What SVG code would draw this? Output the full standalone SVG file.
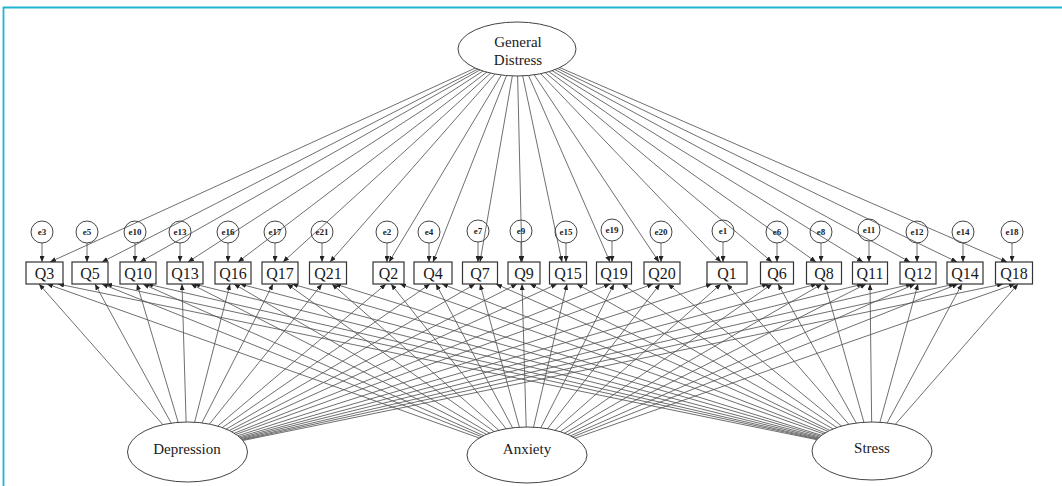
<svg xmlns="http://www.w3.org/2000/svg" width="1062" height="486" viewBox="0 0 1062 486">
<defs>
<style>
.c line{stroke:#555;stroke-width:0.85;marker-end:url(#a)}
.bx{fill:#fff;stroke:#333;stroke-width:1.2}
.qt{font-family:"Liberation Serif",serif;font-size:16px;text-anchor:middle;fill:#1a1a1a}
.ec{fill:none;stroke:#444;stroke-width:1}
.et{font-family:"Liberation Serif",serif;font-size:9px;font-weight:bold;text-anchor:middle;fill:#222}
.lv{fill:#fff;stroke:#444;stroke-width:1}
.lt{font-family:"Liberation Serif",serif;font-size:15px;text-anchor:middle;fill:#1a1a1a}
.bd{stroke:#1fb6d2;stroke-width:1.8;fill:none}
</style>
<marker id="a" markerWidth="6" markerHeight="5" refX="6" refY="2.5" orient="auto" markerUnits="userSpaceOnUse"><path d="M0,0 L6,2.5 L0,5 z" fill="#222"/></marker>
</defs>
<rect width="1062" height="486" fill="#fff"/>
<path class="bd" d="M3.5,486 V7.5 H1062"/>
<g id="connectors" class="c">
<line x1="517" y1="49" x2="50" y2="262"/>
<line x1="517" y1="49" x2="102" y2="262"/>
<line x1="517" y1="49" x2="140" y2="262"/>
<line x1="517" y1="49" x2="188" y2="262"/>
<line x1="517" y1="49" x2="238" y2="262"/>
<line x1="517" y1="49" x2="283" y2="262"/>
<line x1="517" y1="49" x2="330" y2="262"/>
<line x1="517" y1="49" x2="389" y2="262"/>
<line x1="517" y1="49" x2="433" y2="262"/>
<line x1="517" y1="49" x2="480" y2="262"/>
<line x1="517" y1="49" x2="522" y2="262"/>
<line x1="517" y1="49" x2="562" y2="262"/>
<line x1="517" y1="49" x2="610" y2="262"/>
<line x1="517" y1="49" x2="659" y2="262"/>
<line x1="517" y1="49" x2="721" y2="262"/>
<line x1="517" y1="49" x2="772" y2="262"/>
<line x1="517" y1="49" x2="816" y2="262"/>
<line x1="517" y1="49" x2="863" y2="262"/>
<line x1="517" y1="49" x2="910" y2="262"/>
<line x1="517" y1="49" x2="957" y2="262"/>
<line x1="517" y1="49" x2="1007" y2="262"/>
<line x1="42" y1="243" x2="42" y2="262"/>
<line x1="87" y1="243" x2="87" y2="262"/>
<line x1="135" y1="243" x2="135" y2="262"/>
<line x1="180" y1="243" x2="180" y2="262"/>
<line x1="228" y1="243" x2="228" y2="262"/>
<line x1="275" y1="243" x2="275" y2="262"/>
<line x1="322" y1="243" x2="322" y2="262"/>
<line x1="387" y1="243" x2="387" y2="262"/>
<line x1="429" y1="243" x2="429" y2="262"/>
<line x1="478" y1="242" x2="478" y2="262"/>
<line x1="521" y1="242" x2="521" y2="262"/>
<line x1="566" y1="243" x2="566" y2="262"/>
<line x1="612" y1="241" x2="612" y2="262"/>
<line x1="661" y1="243" x2="661" y2="262"/>
<line x1="723" y1="242" x2="723" y2="262"/>
<line x1="777" y1="243" x2="777" y2="262"/>
<line x1="821" y1="243" x2="821" y2="262"/>
<line x1="869" y1="241" x2="869" y2="262"/>
<line x1="917" y1="243" x2="917" y2="262"/>
<line x1="963" y1="243" x2="963" y2="262"/>
<line x1="1012" y1="243" x2="1012" y2="262"/>
<line x1="187" y1="452" x2="39" y2="284"/>
<line x1="187" y1="452" x2="95" y2="284"/>
<line x1="187" y1="452" x2="137" y2="284"/>
<line x1="187" y1="452" x2="182" y2="284"/>
<line x1="187" y1="452" x2="230" y2="284"/>
<line x1="187" y1="452" x2="273" y2="284"/>
<line x1="187" y1="452" x2="322" y2="284"/>
<line x1="187" y1="452" x2="386" y2="284"/>
<line x1="187" y1="452" x2="430" y2="284"/>
<line x1="187" y1="452" x2="475" y2="284"/>
<line x1="187" y1="452" x2="517" y2="284"/>
<line x1="187" y1="452" x2="557" y2="284"/>
<line x1="187" y1="452" x2="610" y2="284"/>
<line x1="187" y1="452" x2="653" y2="284"/>
<line x1="187" y1="452" x2="712" y2="284"/>
<line x1="187" y1="452" x2="768" y2="284"/>
<line x1="187" y1="452" x2="817" y2="284"/>
<line x1="187" y1="452" x2="863" y2="284"/>
<line x1="187" y1="452" x2="912" y2="284"/>
<line x1="187" y1="452" x2="955" y2="284"/>
<line x1="187" y1="452" x2="1003" y2="284"/>
<line x1="527" y1="455" x2="47" y2="284"/>
<line x1="527" y1="455" x2="102" y2="284"/>
<line x1="527" y1="455" x2="143" y2="284"/>
<line x1="527" y1="455" x2="191" y2="284"/>
<line x1="527" y1="455" x2="234" y2="284"/>
<line x1="527" y1="455" x2="287" y2="284"/>
<line x1="527" y1="455" x2="332" y2="284"/>
<line x1="527" y1="455" x2="391" y2="284"/>
<line x1="527" y1="455" x2="436" y2="284"/>
<line x1="527" y1="455" x2="480" y2="284"/>
<line x1="527" y1="455" x2="522" y2="284"/>
<line x1="527" y1="455" x2="567" y2="284"/>
<line x1="527" y1="455" x2="614" y2="284"/>
<line x1="527" y1="455" x2="660" y2="284"/>
<line x1="527" y1="455" x2="721" y2="284"/>
<line x1="527" y1="455" x2="772" y2="284"/>
<line x1="527" y1="455" x2="822" y2="284"/>
<line x1="527" y1="455" x2="866" y2="284"/>
<line x1="527" y1="455" x2="915" y2="284"/>
<line x1="527" y1="455" x2="958" y2="284"/>
<line x1="527" y1="455" x2="1015" y2="284"/>
<line x1="872" y1="451" x2="58" y2="284"/>
<line x1="872" y1="451" x2="106" y2="284"/>
<line x1="872" y1="451" x2="147" y2="284"/>
<line x1="872" y1="451" x2="194" y2="284"/>
<line x1="872" y1="451" x2="240" y2="284"/>
<line x1="872" y1="451" x2="292" y2="284"/>
<line x1="872" y1="451" x2="335" y2="284"/>
<line x1="872" y1="451" x2="400" y2="284"/>
<line x1="872" y1="451" x2="442" y2="284"/>
<line x1="872" y1="451" x2="496" y2="284"/>
<line x1="872" y1="451" x2="530" y2="284"/>
<line x1="872" y1="451" x2="577" y2="284"/>
<line x1="872" y1="451" x2="622" y2="284"/>
<line x1="872" y1="451" x2="668" y2="284"/>
<line x1="872" y1="451" x2="727" y2="284"/>
<line x1="872" y1="451" x2="778" y2="284"/>
<line x1="872" y1="451" x2="825" y2="284"/>
<line x1="872" y1="451" x2="870" y2="284"/>
<line x1="872" y1="451" x2="918" y2="284"/>
<line x1="872" y1="451" x2="962" y2="284"/>
<line x1="872" y1="451" x2="1018" y2="284"/>
</g>
<g id="general-distress"><ellipse class="lv" cx="517" cy="49" rx="59" ry="27"/><text class="lt" x="518" y="47">General</text><text class="lt" x="518" y="65">Distress</text></g>
<g id="depression"><ellipse class="lv" cx="187.5" cy="452" rx="60" ry="30"/><text class="lt" x="187" y="454">Depression</text></g>
<g id="anxiety"><ellipse class="lv" cx="527" cy="455" rx="60" ry="28"/><text class="lt" x="527" y="454">Anxiety</text></g>
<g id="stress"><ellipse class="lv" cx="872" cy="451" rx="60" ry="29"/><text class="lt" x="872" y="453">Stress</text></g>
<g id="Q3"><rect class="bx" x="26" y="262" width="37" height="22"/><text class="qt" x="44.5" y="279">Q3</text></g>
<g id="Q5"><rect class="bx" x="72" y="262" width="36" height="22"/><text class="qt" x="90" y="279">Q5</text></g>
<g id="Q10"><rect class="bx" x="120" y="262" width="36" height="22"/><text class="qt" x="138" y="279">Q10</text></g>
<g id="Q13"><rect class="bx" x="167" y="262" width="36" height="22"/><text class="qt" x="185" y="279">Q13</text></g>
<g id="Q16"><rect class="bx" x="215" y="262" width="36" height="22"/><text class="qt" x="233" y="279">Q16</text></g>
<g id="Q17"><rect class="bx" x="262" y="262" width="36" height="22"/><text class="qt" x="280" y="279">Q17</text></g>
<g id="Q21"><rect class="bx" x="309.5" y="262" width="37" height="22"/><text class="qt" x="328" y="279">Q21</text></g>
<g id="Q2"><rect class="bx" x="373" y="262" width="31" height="22"/><text class="qt" x="388.5" y="279">Q2</text></g>
<g id="Q4"><rect class="bx" x="414" y="262" width="38" height="22"/><text class="qt" x="433" y="279">Q4</text></g>
<g id="Q7"><rect class="bx" x="462.5" y="262" width="35" height="22"/><text class="qt" x="480" y="279">Q7</text></g>
<g id="Q9"><rect class="bx" x="508" y="262" width="32" height="22"/><text class="qt" x="524" y="279">Q9</text></g>
<g id="Q15"><rect class="bx" x="549.5" y="262" width="37" height="22"/><text class="qt" x="568" y="279">Q15</text></g>
<g id="Q19"><rect class="bx" x="596.5" y="262" width="35" height="22"/><text class="qt" x="614" y="279">Q19</text></g>
<g id="Q20"><rect class="bx" x="644" y="262" width="36" height="22"/><text class="qt" x="662" y="279">Q20</text></g>
<g id="Q1"><rect class="bx" x="707" y="262" width="40" height="22"/><text class="qt" x="727" y="279">Q1</text></g>
<g id="Q6"><rect class="bx" x="760.5" y="262" width="33" height="22"/><text class="qt" x="777" y="279">Q6</text></g>
<g id="Q8"><rect class="bx" x="806.5" y="262" width="35" height="22"/><text class="qt" x="824" y="279">Q8</text></g>
<g id="Q11"><rect class="bx" x="852.5" y="262" width="35" height="22"/><text class="qt" x="870" y="279">Q11</text></g>
<g id="Q12"><rect class="bx" x="900" y="262" width="36" height="22"/><text class="qt" x="918" y="279">Q12</text></g>
<g id="Q14"><rect class="bx" x="947" y="262" width="36" height="22"/><text class="qt" x="965" y="279">Q14</text></g>
<g id="Q18"><rect class="bx" x="995.5" y="262" width="37" height="22"/><text class="qt" x="1014" y="279">Q18</text></g>
<g id="e3"><circle class="ec" cx="42" cy="232" r="11"/><text class="et" x="42" y="235">e3</text></g>
<g id="e5"><circle class="ec" cx="87" cy="232" r="11"/><text class="et" x="87" y="235">e5</text></g>
<g id="e10"><circle class="ec" cx="135" cy="232" r="11"/><text class="et" x="135" y="235">e10</text></g>
<g id="e13"><circle class="ec" cx="180" cy="232" r="11"/><text class="et" x="180" y="235">e13</text></g>
<g id="e16"><circle class="ec" cx="228" cy="232" r="11"/><text class="et" x="228" y="235">e16</text></g>
<g id="e17"><circle class="ec" cx="275" cy="232" r="11"/><text class="et" x="275" y="235">e17</text></g>
<g id="e21"><circle class="ec" cx="322" cy="232" r="11"/><text class="et" x="322" y="235">e21</text></g>
<g id="e2"><circle class="ec" cx="387" cy="232" r="11"/><text class="et" x="387" y="235">e2</text></g>
<g id="e4"><circle class="ec" cx="429" cy="232" r="11"/><text class="et" x="429" y="235">e4</text></g>
<g id="e7"><circle class="ec" cx="478" cy="231" r="11"/><text class="et" x="478" y="234">e7</text></g>
<g id="e9"><circle class="ec" cx="521" cy="231" r="11"/><text class="et" x="521" y="234">e9</text></g>
<g id="e15"><circle class="ec" cx="566" cy="232" r="11"/><text class="et" x="566" y="235">e15</text></g>
<g id="e19"><circle class="ec" cx="612" cy="230" r="11"/><text class="et" x="612" y="233">e19</text></g>
<g id="e20"><circle class="ec" cx="661" cy="232" r="11"/><text class="et" x="661" y="235">e20</text></g>
<g id="e1"><circle class="ec" cx="723" cy="231" r="11"/><text class="et" x="723" y="234">e1</text></g>
<g id="e6"><circle class="ec" cx="777" cy="232" r="11"/><text class="et" x="777" y="235">e6</text></g>
<g id="e8"><circle class="ec" cx="821" cy="232" r="11"/><text class="et" x="821" y="235">e8</text></g>
<g id="e11"><circle class="ec" cx="869" cy="230" r="11"/><text class="et" x="869" y="233">e11</text></g>
<g id="e12"><circle class="ec" cx="917" cy="232" r="11"/><text class="et" x="917" y="235">e12</text></g>
<g id="e14"><circle class="ec" cx="963" cy="232" r="11"/><text class="et" x="963" y="235">e14</text></g>
<g id="e18"><circle class="ec" cx="1012" cy="232" r="11"/><text class="et" x="1012" y="235">e18</text></g>
</svg>
